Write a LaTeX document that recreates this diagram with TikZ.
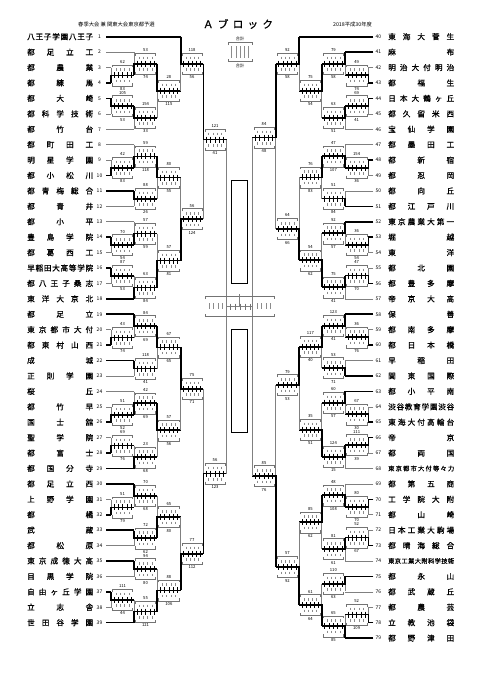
\documentclass[tikz,border=0pt]{standalone}
\usepackage{fontspec}
\newfontfamily\jp{Noto Sans CJK JP}
\newfontfamily\jpb{Noto Sans CJK JP}[FakeBold=0.9]
\usepackage{tikz}

% columns of the bracket, left and right half
\def\xLa{106}\def\xLb{111}\def\xLc{134}\def\xLd{157}\def\xLe{180.7}\def\xLf{203.3}\def\xLg{226.7}
\def\xRa{373.3}\def\xRb{368.3}\def\xRc{345}\def\xRd{321.7}\def\xRe{299}\def\xRf{275.7}\def\xRg{252.3}

% school names spread over the full column width
\ExplSyntaxOn
\tl_new:N \l_spread_tl
\bool_new:N \l_spread_bool
\NewDocumentCommand \spreadtext { O{66pt} m }
 {
  \tl_set:No \l_spread_tl {#2}
  \int_compare:nNnT { \tl_count:N \l_spread_tl } > { 8 }
   { \fontsize{6.2}{7}\selectfont }
  \makebox[#1][s]
   {
    \bool_set_false:N \l_spread_bool
    \tl_map_inline:Nn \l_spread_tl
     {
      \bool_if:NT \l_spread_bool { \hfill }
      \bool_set_true:N \l_spread_bool
      ##1
     }
   }
 }
\ExplSyntaxOff

% one game: name, x bracket, x next round, y entry 1, y entry 2, y out, y winner, top / bottom figure
\newcommand\game[9]{%
  \pgfmathsetmacro\bxl{min(#2,#3)+1.5}%
  \pgfmathsetmacro\bxr{max(#2,#3)-1.5}%
  \pgfmathsetmacro\bxm{(#2+#3)/2}%
  \draw[link] (#2,#4) -- (#2,#5);
  \draw[frame] (\bxl,#6-8) -- (\bxl,#6-10.5) -- (\bxr,#6-10.5) -- (\bxr,#6-8)
               (\bxl,#6+8) -- (\bxl,#6+10.5) -- (\bxr,#6+10.5) -- (\bxr,#6+8);
  \foreach \k in {0,...,3} {
    \draw[cell] ({\bxl+1.5+(\k+0.5)*(\bxr-\bxl-3)/4},#6-7) -- ++(0,2.5);
    \draw[cell] ({\bxl+1.5+(\k+0.5)*(\bxr-\bxl-3)/4},#6+4.5) -- ++(0,2.5);
  }
  \draw[win] (#2,#7) -- (#2,#6) -- (#3,#6);
  \foreach \k in {0,...,4}
    \draw[tick] ({\bxl+1.5+\k*(\bxr-\bxl-3)/4},#6-3) -- ++(0,6);
  \node[gno] (#1t) at (\bxm,#6-13.5) {#8};
  \node[gno] (#1b) at (\bxm,#6+13.5) {#9};
}

\begin{document}
\begin{tikzpicture}[
  x=1pt, y=-1pt,
  tname/.style={font=\jpb\fontsize{7.6}{8}\selectfont, anchor=west, inner sep=0pt},
  tnum/.style={font=\jp\fontsize{5}{5}\selectfont, inner sep=0pt},
  gno/.style={font=\jp\fontsize{4.2}{4.2}\selectfont, inner sep=0pt},
  head/.style={font=\jp\fontsize{5.3}{6}\selectfont, inner sep=0pt},
  title/.style={font=\jpb\fontsize{10.5}{11}\selectfont, inner sep=0pt},
  link/.style={draw=black!50, line width=0.5pt},
  win/.style={draw=black, line width=1.6pt},
  frame/.style={draw=black!55, line width=0.4pt},
  cell/.style={draw=black!45, line width=0.35pt},
  tick/.style={draw=black, line width=0.5pt}
]
\fill[white] (0,0) rectangle (481,680);
\useasboundingbox (0,0) rectangle (481,680);

% heading
\node[head] (meet) at (116.5,24) {春季大会 兼 関東大会東京都予選};
\node[title] (block) at (238,24) {\spreadtext[70pt]{Ａブロック}};
\node[head] (year) at (352.5,24) {2018平成30年度};

% left half
\foreach \nm/\cx/\st [count=\i] in {
  八王子学園八王子/\xLe/win, 都足立工/\xLc/link, 都農業/\xLb/link, 都練馬/\xLb/win,
  都大崎/\xLb/win, 都科学技術/\xLb/link, 都竹台/\xLc/link, 都町田工/\xLc/link,
  明星学園/\xLb/link, 都小松川/\xLb/win, 都青梅総合/\xLc/win, 都青井/\xLc/link,
  都小平/\xLc/link, 豊島学院/\xLb/win, 都葛西工/\xLb/link, 早稲田大高等学院/\xLb/win,
  都八王子桑志/\xLb/link, 東洋大京北/\xLc/win, 都足立/\xLc/win, 東京都市大付/\xLb/link,
  都東村山西/\xLb/win, 成城/\xLc/win, 正則学園/\xLc/link, 桜丘/\xLc/link,
  都竹早/\xLb/link, 国士舘/\xLb/win, 聖学院/\xLb/link, 都富士/\xLb/win,
  都国分寺/\xLc/win, 都足立西/\xLc/win, 上野学園/\xLb/link, 都橘/\xLb/win,
  武蔵/\xLc/win, 都松原/\xLc/link, 東京成徳大高/\xLc/win, 目黒学院/\xLc/link,
  自由ヶ丘学園/\xLb/win, 立志舎/\xLb/link, 世田谷学園/\xLc/win} {
  \pgfmathsetmacro\y{36.7+(\i-1)*15.42}
  \node[tname] (nameL\i) at (27,\y) {\spreadtext{\nm}};
  \node[tnum] (numL\i) at (99.5,\y) {\i};
  \draw[\st] (\xLa,\y) -- (\cx,\y);
}

% right half
\foreach \nm/\cx/\st [count=\i] in {
  東海大菅生/\xRe/win, 麻布/\xRc/win, 明治大付明治/\xRb/link, 都福生/\xRb/win,
  日本大鶴ヶ丘/\xRb/win, 都久留米西/\xRb/link, 宝仙学園/\xRc/link, 都墨田工/\xRc/link,
  都新宿/\xRb/win, 都忍岡/\xRb/link, 都向丘/\xRc/link, 都江戸川/\xRc/win,
  東京農業大第一/\xRc/win, 堀越/\xRb/win, 東洋/\xRb/link, 都北園/\xRb/link,
  都豊多摩/\xRb/win, 帝京大高/\xRc/link, 保善/\xRc/win, 都南多摩/\xRb/link,
  都日本橋/\xRb/win, 早稲田/\xRc/link, 関東国際/\xRc/win, 都小平南/\xRc/win,
  渋谷教育学園渋谷/\xRb/link, 東海大付高輪台/\xRb/win, 帝京/\xRb/win, 都両国/\xRb/link,
  東京都市大付等々力/\xRc/link, 都第五商/\xRc/link, 工学院大附/\xRb/win, 都山崎/\xRb/link,
  日本工業大駒場/\xRb/link, 都晴海総合/\xRb/win, 東京工業大附科学技術/\xRc/link, 都永山/\xRc/win,
  都武蔵丘/\xRc/link, 都農芸/\xRb/link, 立教池袋/\xRb/win, 都野津田/\xRc/win} {
  \pgfmathsetmacro\y{36.7+(\i-1)*15.42}
  \pgfmathtruncatemacro\num{\i+39}
  \node[tname] (nameR\num) at (388,\y) {\spreadtext{\nm}};
  \node[tnum] (numR\num) at (378.3,\y) {\num};
  \draw[\st] (\xRa,\y) -- (\cx,\y);
}

% games, left
\game{L1}{\xLb}{\xLc}{67.6}{83.0}{75.3}{83.0}{62}{83}
\game{L2}{\xLc}{\xLd}{52.1}{75.3}{63.7}{75.3}{53}{74}
\game{L3}{\xLb}{\xLc}{98.4}{113.9}{106.1}{98.4}{105}{53}
\game{L4}{\xLc}{\xLd}{106.1}{129.3}{117.7}{106.1}{154}{33}
\game{L5}{\xLd}{\xLe}{63.7}{117.7}{90.7}{63.7}{28}{115}
\game{L6}{\xLe}{\xLf}{36.7}{90.7}{63.7}{36.7}{118}{56}
\game{L7}{\xLb}{\xLc}{160.1}{175.6}{167.9}{175.6}{42}{83}
\game{L8}{\xLc}{\xLd}{144.7}{167.9}{156.3}{167.9}{59}{118}
\game{L9}{\xLc}{\xLd}{191.0}{206.4}{198.7}{191.0}{88}{26}
\game{L10}{\xLd}{\xLe}{156.3}{198.7}{177.5}{156.3}{80}{55}
\game{L11}{\xLb}{\xLc}{237.3}{252.7}{245.0}{237.3}{70}{54}
\game{L12}{\xLc}{\xLd}{221.9}{245.0}{233.5}{245.0}{57}{59}
\game{L13}{\xLb}{\xLc}{268.2}{283.6}{275.9}{268.2}{87}{53}
\game{L14}{\xLc}{\xLd}{275.9}{299.0}{287.5}{299.0}{63}{84}
\game{L15}{\xLd}{\xLe}{233.5}{287.5}{260.5}{287.5}{57}{81}
\game{L16}{\xLe}{\xLf}{177.5}{260.5}{219.0}{260.5}{56}{124}
\game{L17}{\xLf}{\xLg}{63.7}{219.0}{139.5}{63.7}{121}{41}
\game{L18}{\xLb}{\xLc}{329.9}{345.3}{337.6}{345.3}{43}{74}
\game{L19}{\xLc}{\xLd}{314.4}{337.6}{326.0}{314.4}{84}{69}
\game{L20}{\xLc}{\xLd}{360.7}{376.2}{368.5}{360.7}{118}{41}
\game{L21}{\xLd}{\xLe}{326.0}{368.5}{347.3}{326.0}{67}{65}
\game{L22}{\xLb}{\xLc}{407.0}{422.5}{414.8}{422.5}{51}{52}
\game{L23}{\xLc}{\xLd}{391.6}{414.8}{403.2}{414.8}{42}{69}
\game{L24}{\xLb}{\xLc}{437.9}{453.3}{445.6}{453.3}{69}{76}
\game{L25}{\xLc}{\xLd}{445.6}{468.7}{457.2}{468.7}{23}{68}
\game{L26}{\xLd}{\xLe}{403.2}{457.2}{430.2}{403.2}{57}{56}
\game{L27}{\xLe}{\xLf}{347.3}{430.2}{388.8}{347.3}{75}{71}
\game{L28}{\xLb}{\xLc}{499.6}{515.0}{507.3}{515.0}{51}{79}
\game{L29}{\xLc}{\xLd}{484.2}{507.3}{495.8}{484.2}{70}{68}
\game{L30}{\xLc}{\xLd}{530.5}{545.9}{538.2}{530.5}{72}{62}
\game{L31}{\xLd}{\xLe}{495.8}{538.2}{517.0}{538.2}{65}{80}
\game{L32}{\xLc}{\xLd}{561.3}{576.8}{569.1}{561.3}{94}{80}
\game{L33}{\xLb}{\xLc}{592.2}{607.6}{599.9}{592.2}{111}{44}
\game{L34}{\xLc}{\xLd}{599.9}{623.0}{611.5}{623.0}{55}{121}
\game{L35}{\xLd}{\xLe}{569.1}{611.5}{590.3}{611.5}{88}{106}
\game{L36}{\xLe}{\xLf}{517.0}{590.3}{553.7}{590.3}{77}{112}
\game{L37}{\xLf}{\xLg}{388.8}{553.7}{473.5}{553.7}{56}{123}

% games, right
\game{R1}{\xRb}{\xRc}{67.5}{82.9}{75.2}{82.9}{49}{74}
\game{R2}{\xRc}{\xRd}{52.1}{75.2}{63.7}{52.1}{79}{58}
\game{R3}{\xRb}{\xRc}{98.3}{113.8}{106.1}{98.3}{69}{41}
\game{R4}{\xRc}{\xRd}{106.1}{129.2}{117.7}{106.1}{63}{51}
\game{R5}{\xRd}{\xRe}{63.7}{117.7}{90.7}{63.7}{75}{54}
\game{R6}{\xRe}{\xRf}{36.7}{90.7}{63.7}{36.7}{92}{58}
\game{R7}{\xRb}{\xRc}{160.0}{175.4}{167.7}{160.0}{154}{36}
\game{R8}{\xRc}{\xRd}{144.6}{167.7}{156.2}{167.7}{47}{107}
\game{R9}{\xRc}{\xRd}{190.8}{206.2}{198.5}{206.2}{51}{84}
\game{R10}{\xRd}{\xRe}{156.2}{198.5}{177.4}{156.2}{76}{83}
\game{R11}{\xRb}{\xRc}{237.0}{252.4}{244.7}{237.0}{36}{54}
\game{R12}{\xRc}{\xRd}{221.6}{244.7}{233.2}{221.6}{92}{57}
\game{R13}{\xRb}{\xRc}{267.9}{283.3}{275.6}{283.3}{47}{70}
\game{R14}{\xRc}{\xRd}{275.6}{298.7}{287.2}{275.6}{75}{41}
\game{R15}{\xRd}{\xRe}{233.2}{287.2}{260.2}{287.2}{54}{62}
\game{R16}{\xRe}{\xRf}{177.4}{260.2}{229.0}{260.2}{64}{66}
\game{R17}{\xRf}{\xRg}{63.7}{229.0}{137.5}{63.7}{84}{48}
\game{R18}{\xRb}{\xRc}{329.5}{344.9}{337.2}{344.9}{36}{76}
\game{R19}{\xRc}{\xRd}{314.1}{337.2}{325.7}{314.1}{123}{41}
\game{R20}{\xRc}{\xRd}{360.3}{375.7}{368.0}{375.7}{53}{71}
\game{R21}{\xRd}{\xRe}{325.7}{368.0}{346.9}{325.7}{117}{40}
\game{R22}{\xRb}{\xRc}{406.5}{421.9}{414.2}{421.9}{67}{30}
\game{R23}{\xRc}{\xRd}{391.1}{414.2}{402.7}{391.1}{60}{57}
\game{R24}{\xRb}{\xRc}{437.4}{452.8}{445.1}{437.4}{111}{39}
\game{R25}{\xRc}{\xRd}{445.1}{468.2}{456.7}{445.1}{124}{15}
\game{R26}{\xRd}{\xRe}{402.7}{456.7}{429.7}{456.7}{35}{51}
\game{R27}{\xRe}{\xRf}{346.9}{429.7}{385.0}{346.9}{79}{53}
\game{R28}{\xRb}{\xRc}{499.0}{514.4}{506.7}{499.0}{80}{70}
\game{R29}{\xRc}{\xRd}{483.6}{506.7}{495.2}{506.7}{48}{108}
\game{R30}{\xRb}{\xRc}{529.8}{545.2}{537.5}{545.2}{52}{67}
\game{R31}{\xRc}{\xRd}{537.5}{560.6}{549.1}{537.5}{81}{61}
\game{R32}{\xRd}{\xRe}{495.2}{549.1}{522.2}{495.2}{85}{62}
\game{R33}{\xRc}{\xRd}{576.0}{591.4}{583.7}{576.0}{110}{63}
\game{R34}{\xRb}{\xRc}{606.9}{622.3}{614.6}{622.3}{52}{109}
\game{R35}{\xRc}{\xRd}{614.6}{637.7}{626.2}{637.7}{65}{85}
\game{R36}{\xRd}{\xRe}{583.7}{626.2}{605.0}{626.2}{61}{64}
\game{R37}{\xRe}{\xRf}{522.2}{605.0}{567.0}{605.0}{57}{92}
\game{R38}{\xRf}{\xRg}{385.0}{567.0}{476.0}{567.0}{85}{76}

% semi finals and final
\draw[link] (\xLg,139.5) -- (\xLg,473.5);
\draw[link] (\xRg,137.5) -- (\xRg,476.0);
\draw[frame] (205,299) -- (205,296.5) -- (274,296.5) -- (274,299)
             (205,314) -- (205,316.5) -- (274,316.5) -- (274,314);
\draw[link] (\xLg,306.5) -- (\xRg,306.5);
\draw[link] (239.5,306.5) -- (239.5,294);
\foreach \k in {0,...,4}
  \draw[tick, draw=black!55] ({230+\k*5},303.5) -- ++(0,6);
\foreach \k in {0,...,3} {
  \draw[cell] ({209+\k*4.5},303) -- ++(0,6);
  \draw[cell] ({257+\k*4.5},303) -- ++(0,6);
}
\draw[line width=0.9pt] (231,180.7) rectangle (247.7,283);
\draw[line width=0.9pt] (231,329) rectangle (247.7,432.7);

% key of the score boxes
\node[gno] (sumhead) at (240,38.5) {合計};
\draw[frame] (228,45) -- (228,42.5) -- (252,42.5) -- (252,45)
             (228,59) -- (228,61.5) -- (252,61.5) -- (252,59);
\foreach \k in {0,...,4}
  \draw[cell] ({231.5+\k*4.25},46) -- ++(0,12);
\node[gno] (sumfoot) at (240,65.5) {合計};
\end{tikzpicture}
\end{document}
